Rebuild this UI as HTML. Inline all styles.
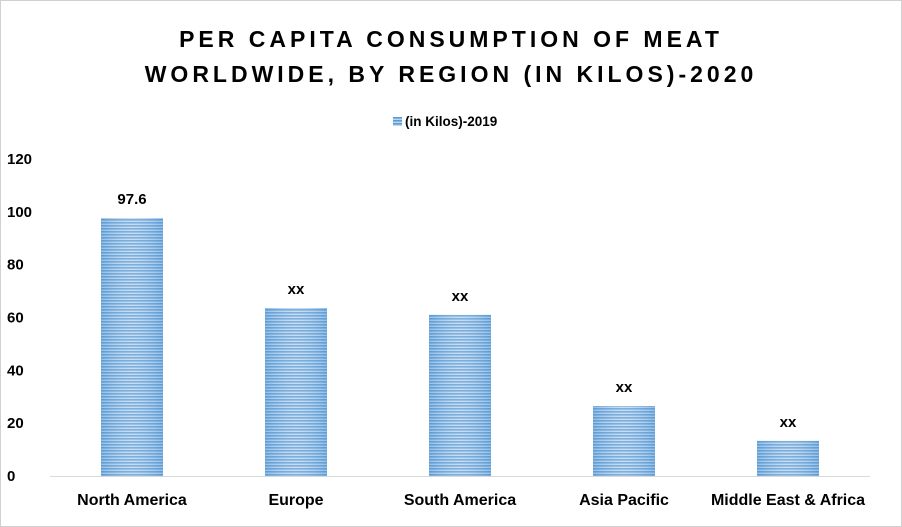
<!DOCTYPE html>
<html><head><meta charset="utf-8"><style>
body{margin:0;background:#fff}
svg{display:block;font-family:"Liberation Sans",Arial,sans-serif}
</style></head><body>
<svg width="902" height="527" viewBox="0 0 902 527">
<defs>
<pattern id="stripes" patternUnits="userSpaceOnUse" width="8" height="3">
<rect width="8" height="3" fill="#bcd5ee"/><rect width="8" height="1.6" fill="#5b9bd5"/>
</pattern>
<linearGradient id="shine" x1="0" x2="1" y1="0" y2="0">
<stop offset="0" stop-color="#5b9bd5" stop-opacity="0.4"/>
<stop offset="0.5" stop-color="#ffffff" stop-opacity="0.2"/>
<stop offset="1" stop-color="#5b9bd5" stop-opacity="0.4"/>
</linearGradient>
</defs>
<rect x="0.5" y="0.5" width="901" height="526" fill="#fff" stroke="#d0d0d0"/>
<text x="451" y="47" text-anchor="middle" font-size="23" font-weight="bold" letter-spacing="4">PER CAPITA CONSUMPTION OF MEAT</text>
<text x="451" y="82" text-anchor="middle" font-size="23" font-weight="bold" letter-spacing="4">WORLDWIDE, BY REGION (IN KILOS)-2020</text>
<g>
<rect x="393" y="117" width="9" height="9" fill="url(#stripes)"/>
<text x="405" y="126" font-size="13.5" font-weight="bold">(in Kilos)-2019</text>
</g>
<g id="yaxis"></g>
<g id="bars"></g>
<line x1="50" y1="476.5" x2="870" y2="476.5" stroke="#d9d9d9"/>
<g id="xaxis"></g>
</svg>
<script>
const categories=["North America","Europe","South America","Asia Pacific","Middle East & Africa"];
const values=[97.6,63.6,61,26.5,13.3];
const valueLabels=["97.6","xx","xx","xx","xx"];
const yTicks=[0,20,40,60,80,100,120];
const NS="http://www.w3.org/2000/svg";
const x0=50,x1=870,yBase=476,yTop=159,yMax=120;
const y=v=>yBase-(v/yMax)*(yBase-yTop);
const band=(x1-x0)/categories.length;
const xc=i=>x0+band*(i+0.5);
const bw=62;
function mk(t,a,p){const e=document.createElementNS(NS,t);for(const k in a)e.setAttribute(k,a[k]);p.appendChild(e);return e;}
const ya=document.getElementById('yaxis'),bg=document.getElementById('bars'),xa=document.getElementById('xaxis');
yTicks.forEach(t=>{
 const e=mk('text',{x:7,y:y(t)+5,'font-size':15,'font-weight':'bold'},ya);
 e.textContent=t;
 
 
});
values.forEach((v,i)=>{
 const r=mk('rect',{x:xc(i)-bw/2,y:y(v),width:bw,height:yBase-y(v),fill:'url(#stripes)'},bg);
 
 
 const s=mk('rect',{x:xc(i)-bw/2,y:y(v),width:bw,height:yBase-y(v),fill:'url(#shine)'},bg);
 
 
 const l=mk('text',{x:xc(i),y:y(v)-14,'text-anchor':'middle','font-size':15,'font-weight':'bold'},bg);
 l.textContent=valueLabels[i];
 
 
 const c=mk('text',{x:xc(i),y:505,'text-anchor':'middle','font-size':16,'font-weight':'bold'},xa);
 c.textContent=categories[i];
 
 
});
</script>
</body></html>
